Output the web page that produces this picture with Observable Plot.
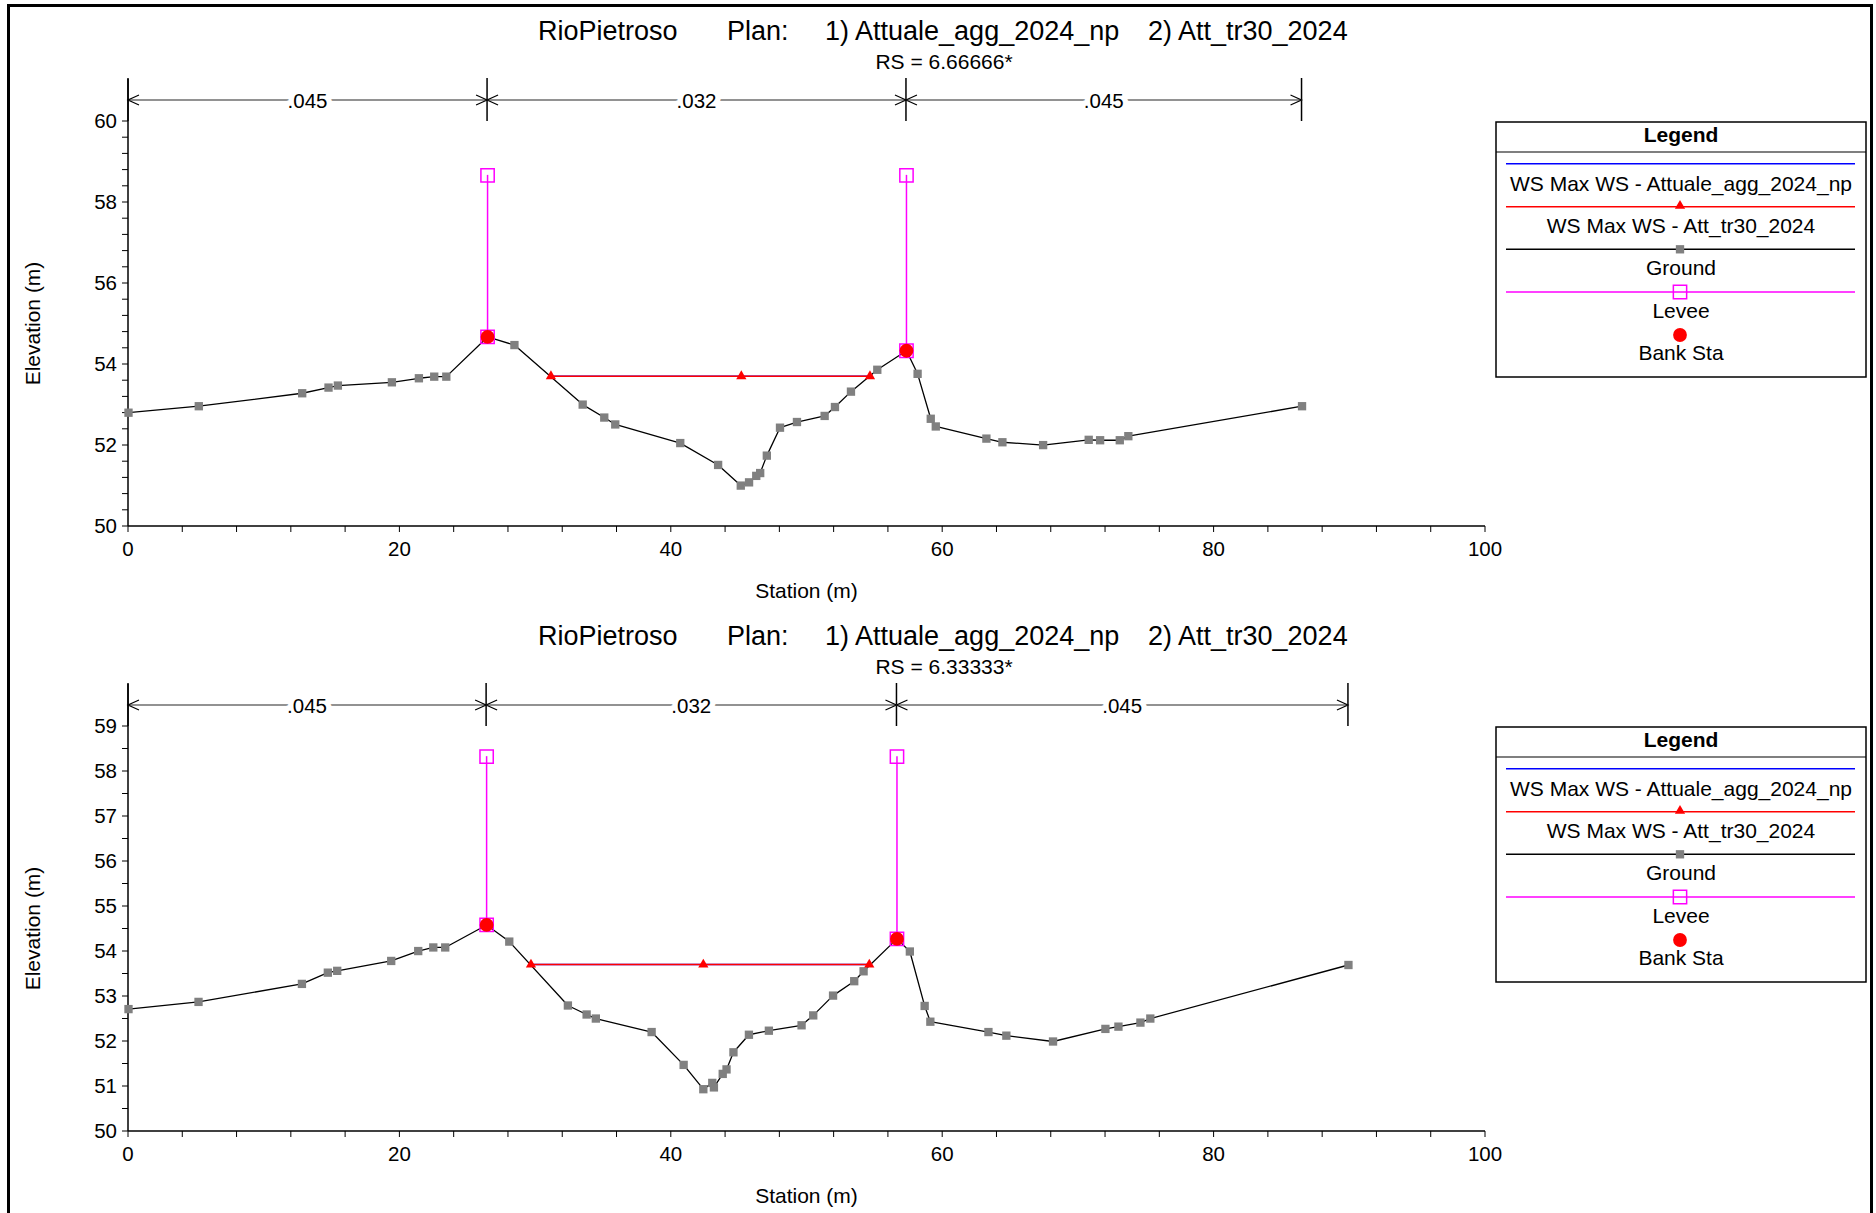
<!DOCTYPE html>
<html>
<head>
<meta charset="utf-8">
<script src="https://cdn.jsdelivr.net/npm/d3@7"></script>
<script src="https://cdn.jsdelivr.net/npm/@observablehq/plot@0.6"></script>
<style>
  html, body { margin: 0; padding: 0; background: #fff; }
  #page { position: relative; width: 1876px; height: 1213px; overflow: hidden; background: #fff; }
  .panel { position: absolute; left: 0; width: 1876px; height: 605px; }
  .panel svg { display: block; }
  #frame { position: absolute; left: 7px; top: 4px; width: 1866px; height: 1300px; border: 3px solid #000; border-bottom: none; box-sizing: border-box; pointer-events: none; }
</style>
</head>
<body>
<div id="page">
  <div class="panel" id="p1" style="top:0px"></div>
  <div class="panel" id="p2" style="top:605px"></div>
  <div id="frame"></div>
</div>
<script>
// ---------------- data ----------------
const riverName = "RioPietroso";
const planLabel = "Plan:";
const plan1 = "1) Attuale_agg_2024_np";
const plan2 = "2) Att_tr30_2024";
const legendLabels = ["WS Max WS - Attuale_agg_2024_np", "WS Max WS - Att_tr30_2024", "Ground", "Levee", "Bank Sta"];
const xTicksMajor = [0, 20, 40, 60, 80, 100];
const xTickMinorStep = 4;
const xLabel = "Station (m)";
const yLabel = "Elevation (m)";

// Cross section RS = 6.66666*
const rs1Label = "RS = 6.66666*";
const rs1Station = [0, 5.18, 12.80, 14.74, 15.43, 19.41, 21.40, 22.53, 23.42, 26.46, 28.44, 33.47, 35.06, 35.87, 40.66, 43.45, 45.12, 45.73, 46.26, 46.55, 47.04, 48.01, 49.26, 51.30, 52.06, 53.24, 55.18, 57.33, 58.15, 59.12, 59.49, 63.22, 64.40, 67.40, 70.76, 71.60, 73.05, 73.68, 86.48];
const rs1Elevation = [52.81, 52.97, 53.29, 53.43, 53.48, 53.56, 53.66, 53.70, 53.70, 54.68, 54.48, 53.01, 52.69, 52.52, 52.06, 51.52, 51.01, 51.09, 51.25, 51.32, 51.75, 52.44, 52.58, 52.73, 52.95, 53.33, 53.87, 54.34, 53.77, 52.66, 52.47, 52.17, 52.08, 52.01, 52.14, 52.13, 52.13, 52.23, 52.97];
const rs1BankStation = [26.46, 57.33];
const rs1BankElevation = [54.68, 54.34];
const rs1LeveeTop = [58.67, 58.67];
const rs1WsStation = [31.13, 45.16, 54.64];
const rs1WsElevationPlan1 = [53.71, 53.71, 53.71];
const rs1WsElevationPlan2 = [53.71, 53.71, 53.71];
const rs1NBreaks = [0, 26.46, 57.33, 86.48];
const rs1NValues = [".045", ".032", ".045"];
const rs1YDomain = [50, 60];
const rs1YTicksMajor = [50, 52, 54, 56, 58, 60];
const rs1YTickMinorStep = 0.4;

// Cross section RS = 6.33333*
const rs2Label = "RS = 6.33333*";
const rs2Station = [0, 5.16, 12.78, 14.69, 15.38, 19.36, 21.35, 22.46, 23.34, 26.39, 28.06, 32.38, 33.76, 34.44, 38.55, 40.91, 42.36, 43.02, 43.14, 43.79, 44.07, 44.58, 45.72, 47.19, 49.60, 50.46, 51.92, 53.48, 54.17, 56.63, 57.58, 58.67, 59.09, 63.37, 64.69, 68.13, 71.99, 72.95, 74.57, 75.30, 89.90];
const rs2Elevation = [52.72, 52.88, 53.28, 53.53, 53.57, 53.79, 54.01, 54.09, 54.09, 54.59, 54.22, 52.80, 52.60, 52.51, 52.21, 51.48, 50.94, 51.08, 50.98, 51.28, 51.38, 51.76, 52.15, 52.24, 52.36, 52.58, 53.02, 53.34, 53.56, 54.28, 54.00, 52.79, 52.44, 52.21, 52.13, 52.00, 52.28, 52.33, 52.42, 52.51, 53.70];
const rs2BankStation = [26.39, 56.63];
const rs2BankElevation = [54.59, 54.28];
const rs2LeveeTop = [58.33, 58.33];
const rs2WsStation = [29.66, 42.36, 54.59];
const rs2WsElevationPlan1 = [53.71, 53.71, 53.71];
const rs2WsElevationPlan2 = [53.71, 53.71, 53.71];
const rs2NBreaks = [0, 26.39, 56.63, 89.90];
const rs2NValues = [".045", ".032", ".045"];
const rs2YDomain = [50, 59];
const rs2YTicksMajor = [50, 51, 52, 53, 54, 55, 56, 57, 58, 59];
const rs2YTickMinorStep = 0.5;

// ---------------- styling / layout ----------------
const FONT = '"Liberation Sans", Arial, Helvetica, sans-serif';
const W = 1876, PH = 605;
const M = {top: 121, right: 391, bottom: 79, left: 128};
const C = {ws1: "#0000ff", ws2: "#ff0000", ground: "#000000", groundPt: "#808080", levee: "#ff00ff", bank: "#ff0000"};

function steps(domain, step) {
  const n = Math.round((domain[1] - domain[0]) / step);
  return d3.range(n + 1).map(i => +(domain[0] + i * step).toFixed(6));
}

function axesMark(cfg) {
  return (index, scales, values, dim) => {
    const x = scales.x, y = scales.y;
    const g = d3.create("svg:g").attr("font-family", FONT).attr("fill", "#000");
    const yb = y(cfg.yDomain[0]);
    const yt = dim.marginTop;
    const xl = x(0), xr = x(100);
    steps([0, 100], xTickMinorStep).forEach(v => {
      g.append("line").attr("x1", x(v)).attr("x2", x(v)).attr("y1", yb).attr("y2", yb + 6)
        .attr("stroke", "#000").attr("stroke-width", 1);
    });
    steps(cfg.yDomain, cfg.yMinorStep).forEach(v => {
      g.append("line").attr("x1", xl - 6).attr("x2", xl).attr("y1", y(v)).attr("y2", y(v))
        .attr("stroke", "#000").attr("stroke-width", 1);
    });
    g.append("line").attr("x1", xl).attr("x2", xr).attr("y1", yb).attr("y2", yb)
      .attr("stroke", "#000").attr("stroke-width", 1.5);
    g.append("line").attr("x1", xl).attr("x2", xl).attr("y1", yb).attr("y2", yt - 42)
      .attr("stroke", "#000").attr("stroke-width", 1.5);
    xTicksMajor.forEach(v => {
      g.append("text").attr("x", x(v)).attr("y", yb + 29.5).attr("text-anchor", "middle")
        .attr("font-size", 20.5).text(v);
    });
    cfg.yTicks.forEach(v => {
      g.append("text").attr("x", xl - 11).attr("y", y(v) + 7.3).attr("text-anchor", "end")
        .attr("font-size", 20.5).text(v);
    });
    g.append("text").attr("x", (xl + xr) / 2).attr("y", yb + 72).attr("text-anchor", "middle")
      .attr("font-size", 21).text(xLabel);
    g.append("text").attr("transform", `translate(39.5,${(yb + yt) / 2}) rotate(-90)`)
      .attr("text-anchor", "middle").attr("font-size", 21).text(yLabel);
    return g.node();
  };
}

function manningMark(cfg) {
  return (index, scales, values, dim) => {
    const x = scales.x;
    const g = d3.create("svg:g").attr("font-family", FONT);
    const yt = dim.marginTop;
    const yBar = yt - 21;
    cfg.nBreaks.forEach(b => {
      g.append("line").attr("x1", x(b)).attr("x2", x(b)).attr("y1", yt - 43).attr("y2", yt)
        .attr("stroke", "#000").attr("stroke-width", 1.5);
    });
    cfg.nValues.forEach((n, i) => {
      const a = x(cfg.nBreaks[i]), b = x(cfg.nBreaks[i + 1]);
      g.append("line").attr("x1", a).attr("x2", b).attr("y1", yBar).attr("y2", yBar)
        .attr("stroke", "#6e6e6e").attr("stroke-width", 1.5);
      g.append("path").attr("d", `M${a + 11},${yBar - 5}L${a},${yBar}L${a + 11},${yBar + 5}`)
        .attr("fill", "none").attr("stroke", "#000").attr("stroke-width", 1.2);
      g.append("path").attr("d", `M${b - 11},${yBar - 5}L${b},${yBar}L${b - 11},${yBar + 5}`)
        .attr("fill", "none").attr("stroke", "#000").attr("stroke-width", 1.2);
      g.append("text").attr("x", (a + b) / 2).attr("y", yBar + 7.5).attr("text-anchor", "middle")
        .attr("font-size", 20.5).attr("fill", "#000")
        .attr("stroke", "#fff").attr("stroke-width", 11).attr("paint-order", "stroke").attr("stroke-linejoin", "round")
        .text(n);
    });
    return g.node();
  };
}

function titleMark(cfg) {
  return () => {
    const g = d3.create("svg:g").attr("font-family", FONT).attr("fill", "#000");
    const parts = [[riverName, 538], [planLabel, 727], [plan1, 825], [plan2, 1148]];
    parts.forEach(([t, px]) => {
      g.append("text").attr("x", px).attr("y", 39.5).attr("text-anchor", "start").attr("font-size", 27).text(t);
    });
    g.append("text").attr("x", 944).attr("y", 68.5).attr("text-anchor", "middle")
      .attr("font-size", 21).text(cfg.label);
    return g.node();
  };
}

function legendMark() {
  return () => {
    const g = d3.create("svg:g").attr("font-family", FONT).attr("fill", "#000");
    const bx = 1496, by = 122, bw = 370, bh = 255, cx = bx + bw / 2;
    const lx1 = 1506, lx2 = 1855, mx = 1680;
    g.append("rect").attr("x", bx).attr("y", by).attr("width", bw).attr("height", bh)
      .attr("fill", "#fff").attr("stroke", "#000").attr("stroke-width", 1.5);
    g.append("line").attr("x1", bx).attr("x2", bx + bw).attr("y1", by + 30).attr("y2", by + 30)
      .attr("stroke", "#000").attr("stroke-width", 1.2);
    g.append("text").attr("x", cx).attr("y", by + 19.5).attr("text-anchor", "middle")
      .attr("font-size", 21).attr("font-weight", "bold").text("Legend");
    const line = (yy, col) => g.append("line").attr("x1", lx1).attr("x2", lx2).attr("y1", yy).attr("y2", yy)
      .attr("stroke", col).attr("stroke-width", 1.5);
    const label = (yy, t) => g.append("text").attr("x", cx).attr("y", yy).attr("text-anchor", "middle")
      .attr("font-size", 21).text(t);
    const sym = (type, r) => d3.symbol(type, r * r * Math.PI)();
    line(163.7, C.ws1);
    label(190.8, legendLabels[0]);
    line(206.7, C.ws2);
    g.append("path").attr("d", sym(d3.symbolTriangle, 3.8)).attr("transform", `translate(${mx},205.8)`).attr("fill", C.ws2);
    label(232.5, legendLabels[1]);
    line(249.3, C.ground);
    g.append("path").attr("d", sym(d3.symbolSquare, 4.7)).attr("transform", `translate(${mx},249.3)`).attr("fill", C.groundPt);
    label(274.5, legendLabels[2]);
    line(292, C.levee);
    g.append("path").attr("d", sym(d3.symbolSquare, 7.5)).attr("transform", `translate(${mx},292)`)
      .attr("fill", "none").attr("stroke", C.levee).attr("stroke-width", 1.5);
    label(317.5, legendLabels[3]);
    g.append("circle").attr("cx", mx).attr("cy", 335).attr("r", 6.9).attr("fill", C.bank);
    label(359.5, legendLabels[4]);
    return g.node();
  };
}

function panel(cfg, el) {
  const ground = cfg.station.map((s, i) => ({station: s, elevation: cfg.elevation[i]}));
  const ws1 = cfg.wsStation.map((s, i) => ({station: s, elevation: cfg.wsPlan1[i]}));
  const ws2 = cfg.wsStation.map((s, i) => ({station: s, elevation: cfg.wsPlan2[i]}));
  const banks = cfg.bankStation.map((s, i) => ({station: s, base: cfg.bankElevation[i], top: cfg.leveeTop[i]}));
  const chart = Plot.plot({
    width: W, height: PH,
    marginTop: M.top, marginRight: M.right, marginBottom: M.bottom, marginLeft: M.left,
    x: {domain: [0, 100], axis: null},
    y: {domain: cfg.yDomain, axis: null},
    style: {background: "transparent", overflow: "visible", fontFamily: FONT},
    marks: [
      titleMark(cfg),
      manningMark(cfg),
      axesMark(cfg),
      Plot.line(ground, {x: "station", y: "elevation", stroke: C.ground, strokeWidth: 1.3}),
      Plot.dot(ground, {x: "station", y: "elevation", symbol: "square", r: 4.7, fill: C.groundPt}),
      Plot.ruleX(banks, {x: "station", y1: "base", y2: "top", stroke: C.levee, strokeWidth: 1.5}),
      Plot.line(ws1, {x: "station", y: "elevation", stroke: C.ws1, strokeWidth: 1.6}),
      Plot.line(ws2, {x: "station", y: "elevation", stroke: C.ws2, strokeWidth: 1.6}),
      Plot.dot(ws2, {x: "station", y: "elevation", symbol: "triangle", r: 3.8, fill: C.ws2}),
      Plot.dot(banks, {x: "station", y: "top", symbol: "square", r: 7.5, fill: "none", stroke: C.levee, strokeWidth: 1.5}),
      Plot.dot(banks, {x: "station", y: "base", symbol: "square", r: 7.5, fill: "none", stroke: C.levee, strokeWidth: 1.5}),
      Plot.dot(banks, {x: "station", y: "base", r: 6.9, fill: C.bank}),
      legendMark()
    ]
  });
  document.getElementById(el).appendChild(chart);
}

panel({
  label: rs1Label, station: rs1Station, elevation: rs1Elevation,
  bankStation: rs1BankStation, bankElevation: rs1BankElevation, leveeTop: rs1LeveeTop,
  wsStation: rs1WsStation, wsPlan1: rs1WsElevationPlan1, wsPlan2: rs1WsElevationPlan2,
  nBreaks: rs1NBreaks, nValues: rs1NValues,
  yDomain: rs1YDomain, yTicks: rs1YTicksMajor, yMinorStep: rs1YTickMinorStep
}, "p1");

panel({
  label: rs2Label, station: rs2Station, elevation: rs2Elevation,
  bankStation: rs2BankStation, bankElevation: rs2BankElevation, leveeTop: rs2LeveeTop,
  wsStation: rs2WsStation, wsPlan1: rs2WsElevationPlan1, wsPlan2: rs2WsElevationPlan2,
  nBreaks: rs2NBreaks, nValues: rs2NValues,
  yDomain: rs2YDomain, yTicks: rs2YTicksMajor, yMinorStep: rs2YTickMinorStep
}, "p2");
</script>
</body>
</html>
